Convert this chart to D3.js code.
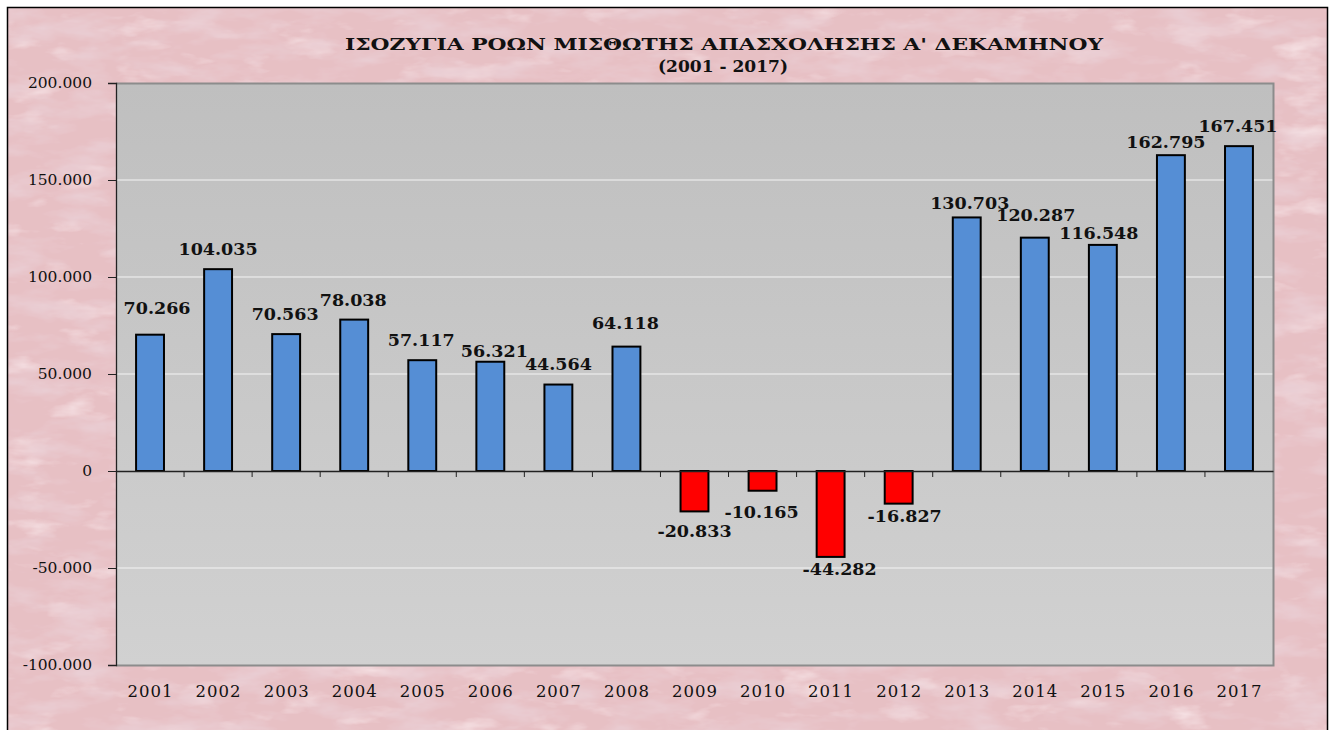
<!DOCTYPE html>
<html>
<head>
<meta charset="utf-8">
<script src="https://cdn.jsdelivr.net/npm/d3@7"></script>
<style>
  body { margin: 0; background: #fff; }
  svg { display: block; }
</style>
</head>
<body>
<div id="vis"></div>
<script>
// data
const years = ["2001","2002","2003","2004","2005","2006","2007","2008","2009",
               "2010","2011","2012","2013","2014","2015","2016","2017"];
const balance = [70266, 104035, 70563, 78038, 57117, 56321, 44564, 64118, -20833,
                 -10165, -44282, -16827, 130703, 120287, 116548, 162795, 167451];
const yTicks = [-100000, -50000, 0, 50000, 100000, 150000, 200000];
const titleLines = ["ΙΣΟΖΥΓΙΑ ΡΟΩΝ ΜΙΣΘΩΤΗΣ ΑΠΑΣΧΟΛΗΣΗΣ Α' ΔΕΚΑΜΗΝΟΥ", "(2001 - 2017)"];

// labels were nudged by hand in the original: [dx, gap from bar end]
const labelNudge = [[7,21],[0,14],[-1,14],[-1,14],[-1,14],[4,5],[0,15],[-1,18],[0,26],
                    [-1,27],[9,18],[6,18],[3,8],[1,17],[-4,6],[-5,7],[-1,14]];

const W = 1331, H = 730;
const m = {left: 116, top: 83, right: 1273, bottom: 665};

const loc = d3.formatLocale({decimal: ",", thousands: ".", grouping: [3], currency: ["", ""], minus: "-"});
const fmt = loc.format(",d");

let svg = d3.select("#vis").append("svg")
  .attr("width", W)
  .attr("height", H);

let defs = svg.append("defs");

// pinkish marble paper
let f = defs.append("filter").attr("id", "marble")
  .attr("x", 0).attr("y", 0).attr("width", "100%").attr("height", "100%");
f.append("feTurbulence")
  .attr("type", "fractalNoise")
  .attr("baseFrequency", "0.018 0.05")
  .attr("numOctaves", 4)
  .attr("seed", 11)
  .attr("result", "noise");
f.append("feColorMatrix")
  .attr("in", "noise")
  .attr("type", "matrix")
  .attr("values", "0 0 0 0 0.82  0 0 0 0 0.62  0 0 0 0 0.66  2.2 0 0 0 -0.95")
  .attr("result", "dark");
f.append("feColorMatrix")
  .attr("in", "noise")
  .attr("type", "matrix")
  .attr("values", "0 0 0 0 0.96  0 0 0 0 0.83  0 0 0 0 0.85  0 -2.0 0 0 0.85")
  .attr("result", "light");
f.append("feMerge").selectAll("feMergeNode")
  .data(["SourceGraphic", "light", "dark"])
  .enter().append("feMergeNode").attr("in", d => d);

let grad = defs.append("linearGradient").attr("id", "plotbg")
  .attr("x1", 0).attr("y1", 0).attr("x2", 0).attr("y2", 1);
grad.append("stop").attr("offset", "0%").attr("stop-color", "#bfbfbf");
grad.append("stop").attr("offset", "100%").attr("stop-color", "#d1d1d1");

svg.append("rect")
  .attr("x", 0).attr("y", 0).attr("width", W).attr("height", H)
  .attr("fill", "#fff");

svg.append("rect")
  .attr("x", 8).attr("y", 8).attr("width", 1319).attr("height", 740)
  .attr("fill", "#e7c0c4")
  .attr("filter", "url(#marble)");

svg.append("rect")
  .attr("x", 7.5).attr("y", 7.5).attr("width", 1320).attr("height", 740)
  .attr("fill", "none")
  .attr("stroke", "#000")
  .attr("stroke-width", 1.5);

// title
svg.append("text")
  .attr("x", 345).attr("y", 50)
  .attr("textLength", 758)
  .attr("lengthAdjust", "spacingAndGlyphs")
  .attr("font-family", "DejaVu Serif")
  .attr("font-weight", "bold")
  .attr("font-size", 17)
  .attr("fill", "#111")
  .text(titleLines[0]);
svg.append("text")
  .attr("x", 658).attr("y", 72)
  .attr("textLength", 130)
  .attr("lengthAdjust", "spacingAndGlyphs")
  .attr("font-family", "DejaVu Serif")
  .attr("font-weight", "bold")
  .attr("font-size", 17)
  .attr("fill", "#111")
  .text(titleLines[1]);

let x = d3.scaleBand()
  .domain(years)
  .range([m.left, m.right])
  .paddingInner(0.59)
  .paddingOuter(0.295);

let y = d3.scaleLinear()
  .domain([-100000, 200000])
  .range([m.bottom, m.top]);

// plot area
svg.append("rect")
  .attr("x", m.left).attr("y", m.top)
  .attr("width", m.right - m.left).attr("height", m.bottom - m.top)
  .attr("fill", "url(#plotbg)");

// grid
svg.append("g")
  .selectAll("line")
  .data(yTicks.filter(d => d != 0 && d != 200000 && d != -100000))
  .enter()
  .append("line")
  .attr("x1", m.left).attr("x2", m.right)
  .attr("y1", d => y(d)).attr("y2", d => y(d))
  .attr("stroke", "#f4f4f4")
  .attr("stroke-width", 1);

// plot border (gray on top/right/bottom)
svg.append("path")
  .attr("d", `M${m.left},${m.top + 0.5}H${m.right + 0.5}V${m.bottom + 0.5}H${m.left}`)
  .attr("fill", "none")
  .attr("stroke", "#8c8c8c")
  .attr("stroke-width", 2);

// y axis
let yAxis = d3.axisLeft(y)
  .tickValues(yTicks)
  .tickFormat(d => fmt(d))
  .tickSize(8)
  .tickPadding(16);
let yg = svg.append("g")
  .attr("transform", `translate(${m.left},0)`)
  .call(yAxis);
yg.select(".domain").attr("stroke", "#222").attr("stroke-width", 1.3);
yg.selectAll(".tick line").attr("stroke", "#222");
yg.selectAll("text")
  .attr("font-family", "DejaVu Serif")
  .attr("font-size", 15.5)
  .attr("fill", "#111");

// bars
svg.append("g")
  .selectAll("rect")
  .data(balance)
  .enter()
  .append("rect")
  .attr("x", (d, i) => x(years[i]))
  .attr("y", d => y(Math.max(0, d)))
  .attr("width", x.bandwidth())
  .attr("height", d => Math.abs(y(d) - y(0)))
  .attr("fill", d => d < 0 ? "#ff0000" : "#558ed5")
  .attr("stroke", "#000")
  .attr("stroke-width", 2);

// zero line with category ticks
let zg = svg.append("g")
  .attr("transform", `translate(0,${y(0)})`)
  .call(d3.axisBottom(x).tickSize(0).tickFormat(""));
zg.select(".domain").attr("stroke", "#222").attr("stroke-width", 1.3);
zg.selectAll(".tick").remove();
let gapHalf = (x.step() - x.bandwidth()) / 2;
zg.selectAll("line.ct")
  .data(years.slice(1))
  .enter()
  .append("line")
  .attr("class", "ct")
  .attr("x1", d => x(d) - gapHalf)
  .attr("x2", d => x(d) - gapHalf)
  .attr("y1", 0).attr("y2", 6)
  .attr("stroke", "#222");

// category labels
svg.append("g")
  .selectAll("text")
  .data(years)
  .enter()
  .append("text")
  .attr("x", d => x(d) + x.bandwidth() / 2 + 0.5)
  .attr("y", 697)
  .attr("text-anchor", "middle")
  .attr("font-family", "DejaVu Serif")
  .attr("font-size", 16.5)
  .attr("letter-spacing", 1)
  .attr("fill", "#111")
  .text(d => d);

// value labels
svg.append("g")
  .selectAll("text")
  .data(balance)
  .enter()
  .append("text")
  .attr("x", (d, i) => x(years[i]) + x.bandwidth() / 2 + labelNudge[i][0])
  .attr("y", (d, i) => d < 0 ? y(d) + labelNudge[i][1] : y(d) - labelNudge[i][1])
  .attr("text-anchor", "middle")
  .attr("font-family", "DejaVu Serif")
  .attr("font-weight", "bold")
  .attr("font-size", 17.5)
  .attr("fill", "#111")
  .text(d => fmt(d));
</script>
</body>
</html>
